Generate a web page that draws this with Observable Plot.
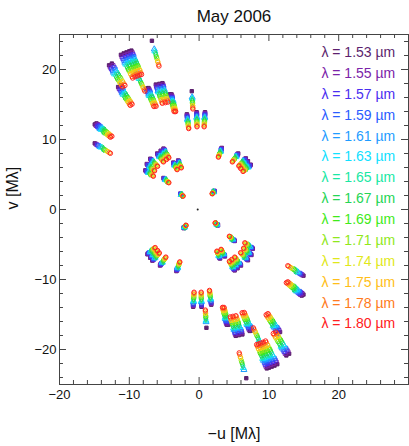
<!DOCTYPE html>
<html><head><meta charset="utf-8">
<script src="https://cdn.jsdelivr.net/npm/d3@7"></script>
<script src="https://cdn.jsdelivr.net/npm/@observablehq/plot@0.6"></script>
<style>body{margin:0;background:#fff;font-family:"Liberation Sans",Arial,Helvetica,sans-serif}</style>
</head><body><div id="chart"></div>
<script>
// Spectral channels (µm) and their colours / symbols
const wavelengths = [1.53,1.55,1.57,1.59,1.61,1.63,1.65,1.67,1.69,1.71,1.74,1.75,1.78,1.80];
const colors = ["#5c1f6e","#7b23a8","#4a2ef0","#2a5cff","#1e9cff","#10e0ff","#19e8a4","#25d555","#3fea1a","#8fe81c","#dfe81a","#ffbe18","#ff7a20","#ff2020"];
const symbols = ["square","square","square","square","triangle","triangle","diamond","diamond","circle","circle","circle","circle","circle","circle"];

// Observed (u, v) points at the shortest channel (1.53 µm), in Mλ, upper half-plane
const obsU = [-11.2,-10.8,-10.4,-10.0,-9.7, -12.9,-12.5, -11.6,-11.3, -9.15, -7.6,-7.25, -6.2,-5.7,-5.25, -4.2,-3.95,
              -1.75,-0.35,0.85, -14.95,-14.7, -14.95, -7.7,-7.5,-7.0,-6.0,-5.5,-5.1, -3.7,-3.0, -5.1, -2.7, 2.2, 3.25, 5.6, 6.7,7.0,7.4];
const obsV = [22.1,22.3,22.45,22.6,22.7, 20.6,20.85, 17.5,17.7, 19.9, 17.3,17.35, 17.85,17.95,18.05, 16.45,16.45,
              13.6,13.9,13.9, 12.15,12.3, 9.45, 5.6,6.5,7.25,8.0,8.4,8.7, 6.7,7.0, 4.5, 2.25, 2.65, 8.8, 8.0, 7.3,6.9,6.4];
// Points observed only in part of the channels
const sparseU = [-6.76,-1.05];
const sparseV = [24.1,16.9];
const sparseChannels = [1.53,1.61,1.63,1.65,1.67,1.69,1.71,1.74,1.75,1.78,1.80];
// zero-spacing point
const zeroU = [-0.2], zeroV = [0];

const xTickLabels = [-20,-10,0,10,20];
const yTickLabels = [-20,-10,0,10,20];
const xMajor = [-20,-10,0,10,20,30];
const yMajor = [-20,-10,0,10,20];
const xMinor = d3.range(-18,30,2).filter(d=>d%10!==0);
const yMinor = d3.range(-24,25,2).filter(d=>d%10!==0);

// uv points: spatial frequency scales as 1/λ, plus the symmetric (-u,-v) point
const pts = [];
function addObs(u0, v0, lams){
  for (const s of [1,-1]) for (const lam of lams){
    const f = wavelengths[0]/lam;
    pts.push({u: s*u0*f, v: s*v0*f, i: wavelengths.indexOf(lam)});
  }
}
obsU.forEach((u,k)=>addObs(u, obsV[k], wavelengths));
sparseU.forEach((u,k)=>addObs(u, sparseV[k], sparseChannels));

const fmt = d => d < 0 ? "\u2212" + Math.abs(d) : String(d);
const TK = 1.0, tk = 0.57; // tick lengths in data units (~7px / ~4px)

const marks = [];
wavelengths.forEach((lam, i) => {
  marks.push(Plot.dot(pts.filter(p=>p.i===i), {x:"u", y:"v", symbol: symbols[i], r: i === 0 ? 1.9 : 2.2, stroke: colors[i], fill: i === 0 ? colors[i] : "none", strokeWidth: 1}));
});
marks.push(Plot.dot(zeroU.map((u,k)=>({u, v: zeroV[k]})), {x:"u", y:"v", r:1, fill:"#222", stroke:"none"}));
// legend
wavelengths.forEach((lam, i) => {
  marks.push(Plot.text([lam], {x: () => 28.1, y: () => 22.4 - 2.98*i, text: d => `\u03bb = ${d.toFixed(2)} \u00b5m`, fill: colors[i], textAnchor: "end", fontSize: 14}));
});
// ticks (inward, on all four sides)
const axc = "#444";
marks.push(
  Plot.ruleX(xMajor, {x: d=>d, y1: -25, y2: -25+TK, stroke: axc}),
  Plot.ruleX(xMinor, {x: d=>d, y1: -25, y2: -25+tk, stroke: axc}),
  Plot.ruleX(xMajor, {x: d=>d, y1: 25, y2: 25-TK, stroke: axc}),
  Plot.ruleX(xMinor, {x: d=>d, y1: 25, y2: 25-tk, stroke: axc}),
  Plot.ruleY(yMajor, {y: d=>d, x1: -20, x2: -20+TK, stroke: axc}),
  Plot.ruleY(yMinor, {y: d=>d, x1: -20, x2: -20+tk, stroke: axc}),
  Plot.ruleY(yMajor, {y: d=>d, x1: 30, x2: 30-TK, stroke: axc}),
  Plot.ruleY(yMinor, {y: d=>d, x1: 30, x2: 30-tk, stroke: axc}),
  Plot.frame({stroke: axc}),
  Plot.text(xTickLabels, {x: d=>d, frameAnchor: "bottom", dy: 14, text: fmt, fontSize: 13, fill: "#111"}),
  Plot.text(yTickLabels, {y: d=>d, frameAnchor: "left", dx: -3, textAnchor: "end", text: fmt, fontSize: 13, fill: "#111"}),
  Plot.text(["May 2006"], {frameAnchor: "top", dy: -25, fontSize: 17, fill: "#111"}),
  Plot.text(["\u2212u [M\u03bb]"], {frameAnchor: "bottom", dy: 54, fontSize: 16, fill: "#111"}),
  Plot.text(["v [M\u03bb]"], {frameAnchor: "left", dx: -47, rotate: -90, fontSize: 16, fill: "#111"})
);

const chart = Plot.plot({
  width: 409, height: 446,
  marginLeft: 59, marginRight: 1, marginTop: 34, marginBottom: 62,
  x: {domain: [-20, 30], axis: null},
  y: {domain: [-25, 25], axis: null},
  style: {fontFamily: '"Liberation Sans", Arial, Helvetica, sans-serif', background: "white", overflow: "visible"},
  marks
});
document.getElementById("chart").appendChild(chart);
</script>
</body></html>
